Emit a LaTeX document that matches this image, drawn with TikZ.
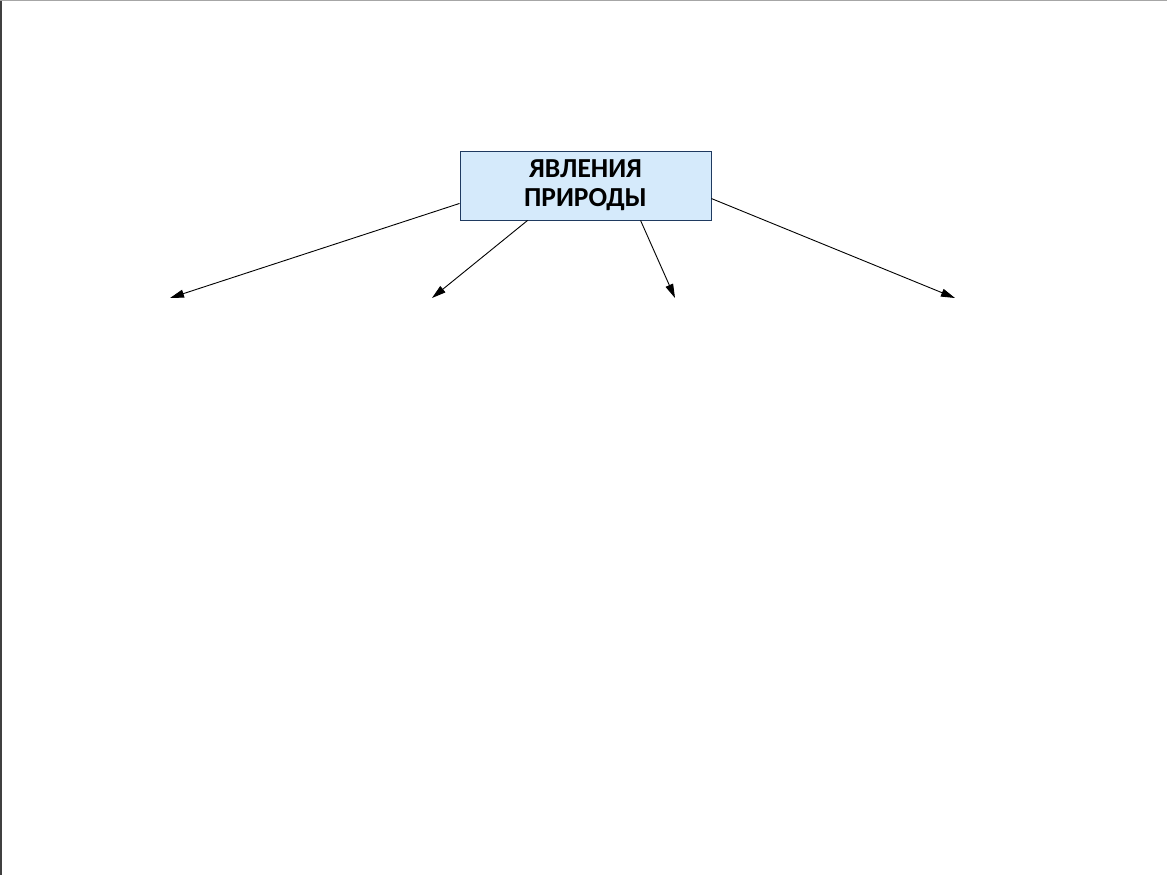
\documentclass[tikz,border=0pt]{standalone}
\usepackage{fontspec}
\setmainfont{Carlito}
\usetikzlibrary{arrows.meta,calc}
\definecolor{boxfill}{HTML}{D5EAFB}
\definecolor{boxline}{HTML}{1F3A60}
\tikzset{
  rootbox/.style={draw=boxline, line width=0.9pt, fill=boxfill, minimum width=251pt, minimum height=69pt, inner sep=0pt, align=center, font=\fontsize{27.5}{29}\selectfont\bfseries},
  conn/.style={draw=black, line width=0.9pt, -{Triangle[length=14pt,width=8pt]}}
}
\begin{document}
\begin{tikzpicture}[x=1pt,y=-1pt]
\useasboundingbox (0,0) rectangle (1167,875);
\fill[white] (0,0) rectangle (1167,875);
\draw[line width=1.5pt, black!75] (0.9,0) -- (0.9,875);
\draw[line width=1.2pt, black!35] (0,0.7) -- (1167,0.7);
\node[rootbox] (root) at (585.5,185.5) {ЯВЛЕНИЯ\\ПРИРОДЫ};
\coordinate (e1) at (170,298);
\coordinate (e2) at (432,298);
\coordinate (e3) at (675,298);
\coordinate (e4) at (955,298);
\draw[conn] ($(root.south west)+(0,-17)$) -- (e1);
\draw[conn] ($(root.south west)+(68,0)$) -- (e2);
\draw[conn] ($(root.south west)+(181,0)$) -- (e3);
\draw[conn] ($(root.north east)+(0,48)$) -- (e4);
\end{tikzpicture}
\end{document}
